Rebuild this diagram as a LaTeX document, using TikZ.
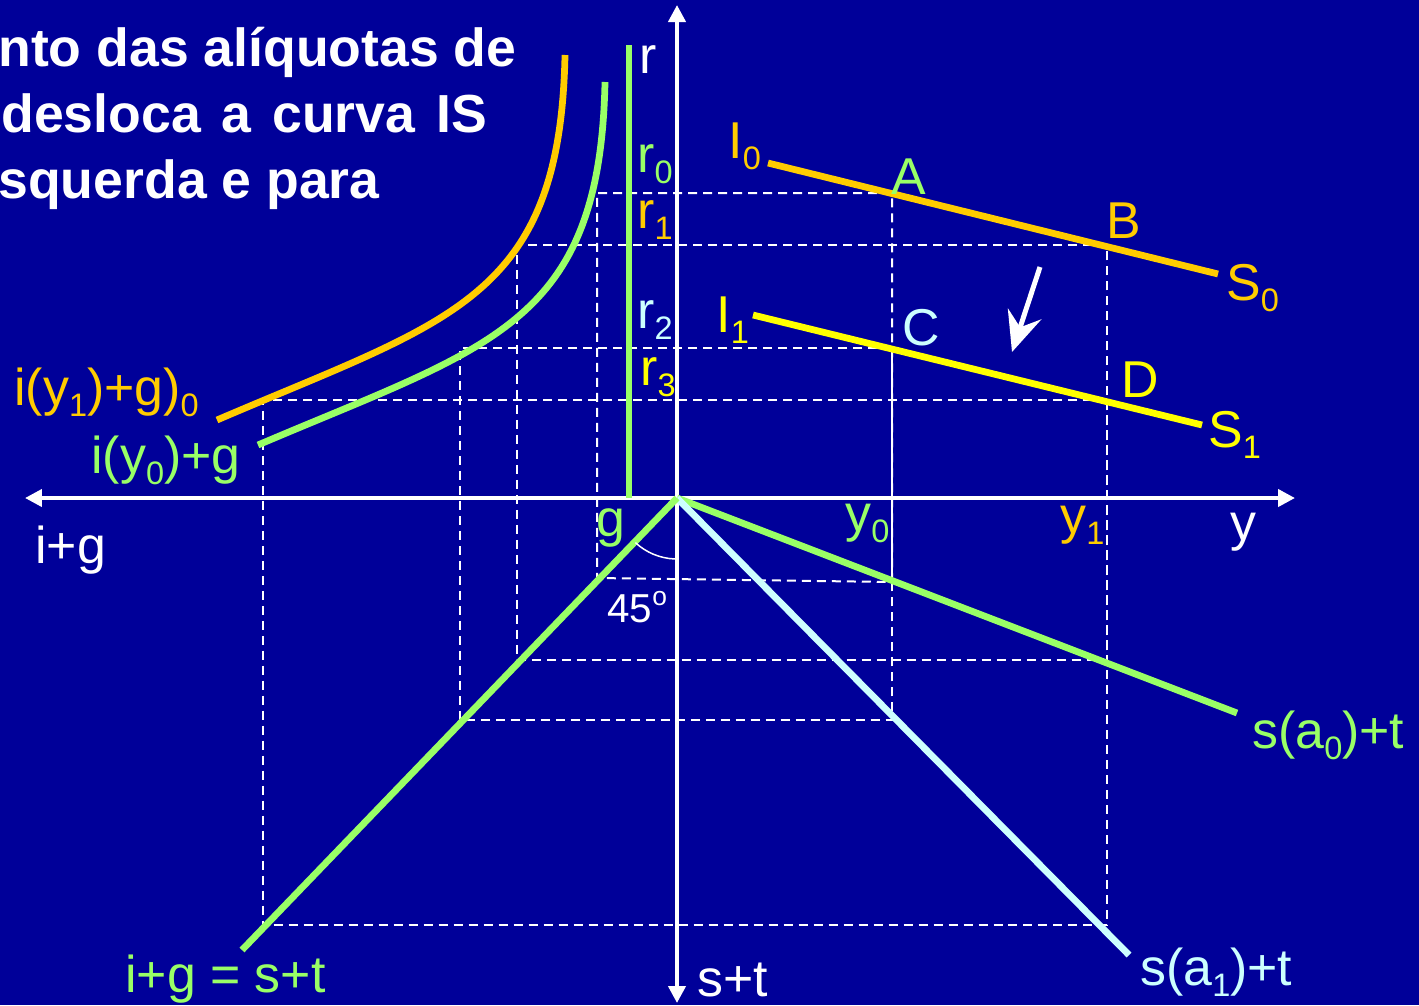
\documentclass[tikz,border=0pt]{standalone}
\usepackage{fontspec}
\setmainfont{Liberation Sans}
\usepackage{xcolor}
\usepackage{tikz}
\usetikzlibrary{arrows.meta}

\definecolor{bgblue}{RGB}{0,0,153}
\definecolor{isorange}{RGB}{255,204,0}
\definecolor{isgreen}{RGB}{153,255,102}
\definecolor{iscyan}{RGB}{204,255,255}
\definecolor{isyellow}{RGB}{255,255,0}

\newcommand{\subs}[1]{\raisebox{-0.23em}{\fontsize{18.5}{18.5}\selectfont #1}}
\newcommand{\wsp}{\hspace{0.39em}}

\begin{document}
\begin{tikzpicture}[
  x=0.02cm, y=-0.02cm,
  lab/.style={font=\fontsize{29.5}{29.5}\selectfont, inner sep=0pt, anchor=base west},
  ttl/.style={font=\fontsize{30.5}{30.5}\selectfont\bfseries, text=white,
    inner sep=0pt, anchor=base west},
  curve/.style={line width=0.135cm},
  axis/.style={white, line width=0.08cm,
    {Triangle[length=0.34cm, width=0.34cm]}-{Triangle[length=0.34cm, width=0.34cm]}},
  guide/.style={white, line width=0.04cm, dash pattern=on 0.18cm off 0.12cm},
  arrow/.style={white, line width=0.1cm,
    -{Stealth[length=0.8cm, width=0.7cm, inset=0.28cm]}}
]
\useasboundingbox (0,0) rectangle (1419,1005);
\fill[bgblue] (0,0) rectangle (1419,1005);

% Title (cut at the left edge)
\node[ttl] (t1) at (-2,66) {nto das alíquotas de};
\node[ttl] (t2) at (1,132) {desloca\wsp a\wsp curva\wsp IS};
\node[ttl] (t3) at (-2,198) {squerda e para};

% Key points
\coordinate (O) at (677,498);
\coordinate (A) at (892,193);
\coordinate (B) at (1107,245);
\coordinate (C) at (892,348);
\coordinate (D) at (1107,400);
\coordinate (g0) at (597,578);
\coordinate (g1) at (517,660);
\coordinate (g2) at (460,720);
\coordinate (g3) at (263,925);
\coordinate (e0) at (892,582);
\coordinate (e1) at (1107,660);
\coordinate (e2) at (892,720);
\coordinate (e3) at (1107,925);

% Guide lines
\foreach \p/\q/\r in {A/g0/e0, B/g1/e1, C/g2/e2, D/g3/e3}
  \draw[guide] (\p) -| (\q) -- (\r) -- cycle;

% Axes
\draw[axis] (25,498) coordinate (xl) -- (1295,498) coordinate (xr);
\draw[axis] (677,1003) coordinate (yb) -- (677,5) coordinate (yt);

% LM (vertical) and investment curves
\draw[curve, isgreen] (629,45) coordinate (lm) -- (629,498);
\draw[curve, isorange] (565,55) coordinate (iy1)
  .. controls (560,300) and (450,320) .. (217,420);
\draw[curve, isgreen] (605,82) coordinate (iy0)
  .. controls (600,326) and (490,346) .. (258,445);

% IS curves
\coordinate (i0) at (768,163);
\coordinate (s0) at (1218,274);
\coordinate (i1) at (753,315);
\coordinate (s1) at (1202,425);
\draw[curve, isorange] (i0) -- (s0);
\draw[curve, isyellow] (i1) -- (s1);
\draw[arrow] (1040,267) coordinate (sh) -- (1012,352) coordinate (st);

% Savings lines and 45 degree line
\coordinate (sa0) at (1237,713);
\coordinate (sa1) at (1129,955);
\coordinate (q45) at (242,950);
\draw[curve, isgreen] (O) -- (sa0);
\draw[curve, iscyan] (O) -- (sa1);
\draw[curve, isgreen] (O) -- (q45);
\draw[white, line width=0.03cm] ([shift={(227:1.22cm)}]O)
  arc[start angle=227, end angle=268, radius=1.22cm];

% Labels
\node[lab, white] (lr) at (639,73) {r};
\node[lab, isgreen] (lr0) at (637,172) {r\subs{0}};
\node[lab, isorange] (lr1) at (637,228) {r\subs{1}};
\node[lab, iscyan] (lr2) at (637,328) {r\subs{2}};
\node[lab, isyellow] (lr3) at (640,385) {r\subs{3}};
\node[lab, isorange] (li0) at (728,158) {I\subs{0}};
\node[lab, isyellow] (li1) at (716,332) {I\subs{1}};
\node[lab, isgreen] (lA) at (891,194) {A};
\node[lab, isorange] (lB) at (1106,238) {B};
\node[lab, iscyan] (lC) at (902,345) {C};
\node[lab, isyellow] (lD) at (1121,397) {D};
\node[lab, isorange] (lS0) at (1226,300) {S\subs{0}};
\node[lab, isyellow] (lS1) at (1208,447) {S\subs{1}};
\node[lab, isorange] (liy1) at (14,405) {i(y\subs{1})+g)\subs{0}};
\node[lab, isgreen] (liy0) at (91,473) {i(y\subs{0})+g};
\node[lab, white] (lig) at (35,563) {i+g};
\node[lab, isgreen] (lg) at (596,536) {g};
\node[lab, isgreen] (ly0) at (845,531) {y\subs{0}};
\node[lab, isorange] (ly1) at (1060,533) {y\subs{1}};
\node[lab, white] (ly) at (1230,540) {y};
\node[lab, white, font=\fontsize{23}{23}\selectfont] (l45) at (607,622)
  {45\raisebox{0.42em}{\fontsize{15}{15}\selectfont o}};
\node[lab, isgreen] (lsa0) at (1252,748) {s(a\subs{0})+t};
\node[lab, iscyan] (lsa1) at (1140,985) {s(a\subs{1})+t};
\node[lab, isgreen] (leq) at (125,992) {i+g = s+t};
\node[lab, white] (lst) at (697,996) {s+t};

\end{tikzpicture}
\end{document}
